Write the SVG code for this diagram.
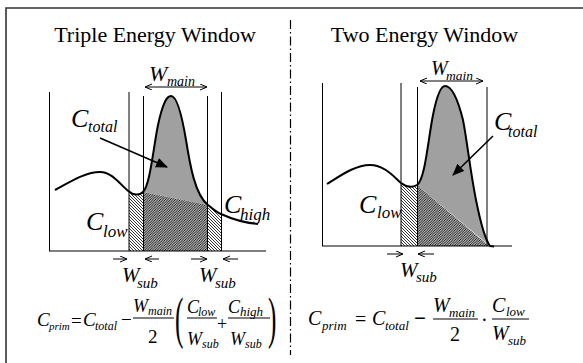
<svg xmlns="http://www.w3.org/2000/svg" width="583" height="363" viewBox="0 0 583 363">
<style>
text{font-family:'Liberation Serif','DejaVu Serif','Times New Roman',serif;fill:#000}
.m{font-style:italic}
.ln{stroke:#000;stroke-width:1;fill:none}
.cv{stroke:#000;stroke-width:2;fill:none;stroke-linejoin:round}
.gray{fill:#a0a0a0;stroke:none}
.hb{fill:url(#hatchB);stroke:none}
.hf{fill:url(#hatchF);stroke:none}
.arr{stroke:#000;stroke-width:1;fill:none;marker-end:url(#open)}
.dbl{stroke:#000;stroke-width:1;fill:none;marker-start:url(#open);marker-end:url(#open)}
.bar{stroke:#000;stroke-width:1}
</style>
<defs>
<pattern id="hatchB" patternUnits="userSpaceOnUse" width="3" height="3">
<rect width="3" height="3" fill="#fff"/>
<path d="M-1,-1 L4,4 M-1,2 L1,4 M2,-1 L4,1" stroke="#000" stroke-width="0.8"/>
</pattern>
<pattern id="hatchF" patternUnits="userSpaceOnUse" width="2.5" height="2.5">
<rect width="2.5" height="2.5" fill="#b0b0b0"/>
<path d="M-1,3.5 L3.5,-1 M-1,1 L1,-1 M1.5,3.5 L3.5,1.5" stroke="#000" stroke-width="0.8"/>
</pattern>
<marker id="open" markerWidth="10" markerHeight="8" refX="7" refY="3" orient="auto-start-reverse" markerUnits="userSpaceOnUse">
<path d="M0,0 L7,3 L0,6" fill="none" stroke="#000" stroke-width="1"/>
</marker>
<marker id="solid" markerWidth="14" markerHeight="12" refX="11" refY="5" orient="auto" markerUnits="userSpaceOnUse">
<path d="M0,0 L12,5 L0,10 Z" fill="#000"/>
</marker>
</defs>
<rect width="583" height="363" fill="#fff"/>
<path d="M6,370 L6,8 L590,8" fill="none" stroke="#333" stroke-width="1.6"/>
<line x1="290.5" y1="20" x2="290.5" y2="355" stroke="#000" stroke-width="1.2" stroke-dasharray="9 3 1.5 3"/>

<g id="left-panel">
<text x="155" y="42" font-size="22" text-anchor="middle">Triple Energy Window</text>
<g id="left-fills">
<path class="gray" d="M143,192 C150,185 153,150 158,125 C163,102 167,96 171,96 C176,96 181,110 186,140 C190,165 195,195 208,205 L143,192 Z"/>
<path class="hb" d="M129,251 L129,191.5 C133,195 139,196 143,192 L143,251 Z"/>
<path class="hf" d="M143,251 L143,192 L208,205 L208,251 Z"/>
<path class="hb" d="M208,251 L208,205 C212,208 216,212 221,214 L221,251 Z"/>
</g>
<g id="left-windows">
<line class="ln" x1="49.5" y1="92" x2="49.5" y2="251"/>
<line class="ln" x1="129" y1="92" x2="129" y2="251"/>
<line class="ln" x1="143.5" y1="96" x2="143.5" y2="251"/>
<line class="ln" x1="207.5" y1="96" x2="207.5" y2="251"/>
<line class="ln" x1="221.5" y1="92" x2="221.5" y2="251"/>
</g>
<path id="left-curve" class="cv" d="M55,190 C70,182 85,172 100,172 C113,172 121,186 129,191.5 C133,195 139,196 143,192 C150,185 153,150 158,125 C163,102 167,96 171,96 C176,96 181,110 186,140 C190,165 195,195 208,205 C212,208 216,212 221,214 C232,219 245,223 258,224"/>
<line id="left-axis" class="ln" x1="49" y1="251" x2="266" y2="251" stroke-width="1.5"/>
<g id="left-labels" font-style="italic">
<text x="149" y="81" font-size="22">W</text>
<text x="167" y="86" font-size="14">main</text>
<text x="71" y="127" font-size="26">C</text>
<text x="88" y="132" font-size="16">total</text>
<text x="86" y="230" font-size="26">C</text>
<text x="103" y="237" font-size="17">low</text>
<text x="224" y="213" font-size="26">C</text>
<text x="240" y="220" font-size="17">high</text>
<text x="122" y="282" font-size="21">W</text>
<text x="137" y="288" font-size="15">sub</text>
<text x="199" y="282" font-size="21">W</text>
<text x="215" y="288" font-size="15">sub</text>
</g>
</g>

<g id="right-panel">
<text x="424.5" y="42" font-size="22" text-anchor="middle">Two Energy Window</text>
<g id="right-fills">
<path class="gray" d="M417,185 C425,180 428,140 433,115 C437,95 441,86 445,86 C452,86 458,100 463,120 C467,140 470,170 476,200 C480,220 484,238 490,246 L417,185 Z"/>
<path class="hb" d="M401,246 L401,183 C405,186 410,189 417,185 L417,246 Z"/>
<path class="hf" d="M417,246 L417,185 L489,246 Z"/>
</g>
<g id="right-windows">
<line class="ln" x1="322.5" y1="83" x2="322.5" y2="246"/>
<line class="ln" x1="401" y1="83" x2="401" y2="246"/>
<line class="ln" x1="417.5" y1="87" x2="417.5" y2="246"/>
<line class="ln" x1="487" y1="87" x2="487" y2="246"/>
</g>
<path id="right-curve" class="cv" d="M327,184 C340,176 355,165 370,165 C385,165 395,178 401,183 C405,186 410,189 417,185 C425,180 428,140 433,115 C437,95 441,86 445,86 C452,86 458,100 463,120 C467,140 470,170 476,200 C480,220 484,238 490,246 L494,246.5"/>
<line id="right-axis" class="ln" x1="322" y1="246" x2="512" y2="246" stroke-width="1.5"/>
<g id="right-labels" font-style="italic">
<text x="431" y="75" font-size="20">W</text>
<text x="446" y="80" font-size="13.5">main</text>
<text x="494" y="130" font-size="26">C</text>
<text x="508" y="137" font-size="16">total</text>
<text x="359" y="213" font-size="26">C</text>
<text x="377" y="218" font-size="17">low</text>
<text x="400" y="277" font-size="21">W</text>
<text x="416" y="282" font-size="15">sub</text>
</g>
</g>

<g id="connectors">
<line class="dbl" x1="145" y1="87" x2="207" y2="87"/>
<line class="dbl" x1="420" y1="81" x2="483" y2="81"/>
<line x1="100" y1="138" x2="167" y2="167" stroke="#000" stroke-width="1.6" marker-end="url(#solid)"/>
<line x1="493" y1="136" x2="453" y2="175" stroke="#000" stroke-width="1.6" marker-end="url(#solid)"/>
<line class="arr" x1="113" y1="259" x2="127" y2="259"/>
<line class="arr" x1="159" y1="259" x2="145" y2="259"/>
<line class="arr" x1="191" y1="259" x2="207" y2="259"/>
<line class="arr" x1="238" y1="259" x2="223" y2="259"/>
<line class="arr" x1="387" y1="254" x2="403" y2="254"/>
<line class="arr" x1="434" y1="254" x2="418" y2="254"/>
</g>

<g id="formula-left">
<text class="m" x="37" y="326" font-size="19">C</text>
<text class="m" x="49" y="330" font-size="11">prim</text>
<text x="71" y="327" font-size="19">=</text>
<text class="m" x="83" y="326" font-size="19">C</text>
<text class="m" x="95" y="330" font-size="12">total</text>
<text x="121" y="326" font-size="19">−</text>
<text class="m" x="133" y="312" font-size="18">W</text>
<text class="m" x="148" y="315" font-size="12">main</text>
<line class="bar" x1="133" y1="318" x2="174" y2="318"/>
<text x="148" y="343" font-size="19">2</text>
<text font-size="56" transform="translate(175,337) scale(0.45,1)">(</text>
<text class="m" x="187" y="313" font-size="18">C</text>
<text class="m" x="198" y="316" font-size="12">low</text>
<line class="bar" x1="187" y1="318" x2="217" y2="318"/>
<text class="m" x="187" y="345" font-size="18">W</text>
<text class="m" x="202" y="348" font-size="12">sub</text>
<text x="217" y="330" font-size="18">+</text>
<text class="m" x="228" y="313" font-size="18">C</text>
<text class="m" x="240" y="316" font-size="13">high</text>
<line class="bar" x1="228" y1="318" x2="270" y2="318"/>
<text class="m" x="230" y="345" font-size="18">W</text>
<text class="m" x="245" y="348" font-size="12">sub</text>
<text font-size="56" transform="translate(268,337) scale(0.45,1)">)</text>
</g>

<g id="formula-right">
<text class="m" x="308" y="325" font-size="20">C</text>
<text class="m" x="322" y="330" font-size="13">prim</text>
<text x="355" y="326" font-size="20">=</text>
<text class="m" x="372" y="325" font-size="20">C</text>
<text class="m" x="385" y="330" font-size="13">total</text>
<text x="414" y="325" font-size="21" font-weight="bold">−</text>
<text class="m" x="433" y="312" font-size="20">W</text>
<text class="m" x="449" y="317" font-size="13">main</text>
<line class="bar" x1="433" y1="319" x2="478" y2="319"/>
<text x="450" y="341" font-size="20">2</text>
<text x="481" y="327" font-size="20">·</text>
<text class="m" x="492" y="312" font-size="20">C</text>
<text class="m" x="506" y="316" font-size="13">low</text>
<line class="bar" x1="492" y1="319" x2="529" y2="319"/>
<text class="m" x="492" y="340" font-size="20">W</text>
<text class="m" x="508" y="345" font-size="13">sub</text>
</g>
</svg>
